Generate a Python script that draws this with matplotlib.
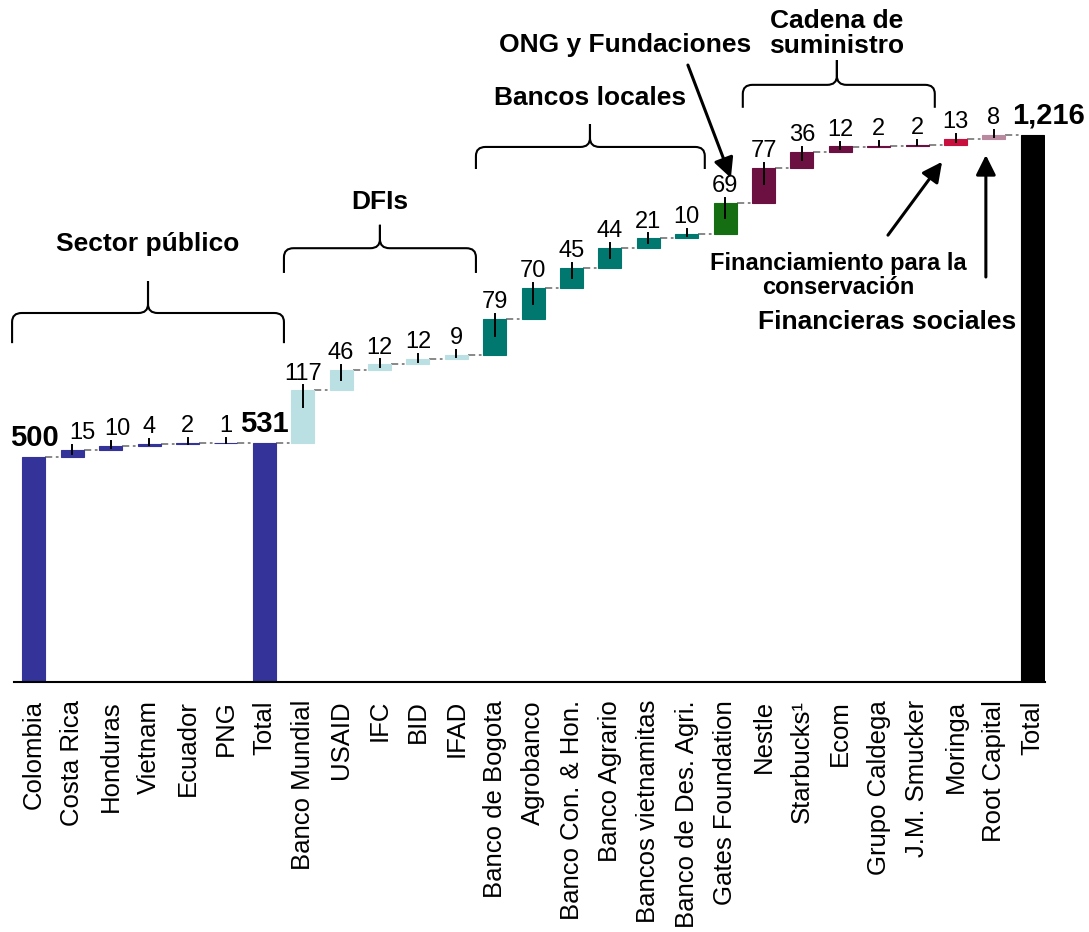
import numpy as np
import matplotlib
matplotlib.use('Agg')
import matplotlib.pyplot as plt
from matplotlib.path import Path
from matplotlib.patches import PathPatch

plt.rcParams['font.family'] = ['Liberation Sans', 'DejaVu Sans']

# data
categories = ['Colombia', 'Costa Rica', 'Honduras', 'Vietnam', 'Ecuador', 'PNG', 'Total',
              'Banco Mundial', 'USAID', 'IFC', 'BID', 'IFAD',
              'Banco de Bogota', 'Agrobanco', 'Banco Con. & Hon.', 'Banco Agrario',
              'Bancos vietnamitas', 'Banco de Des. Agri.', 'Gates Foundation',
              'Nestle', 'Starbucks\u00b9', 'Ecom', 'Grupo Caldega', 'J.M. Smucker',
              'Moringa', 'Root Capital', 'Total']
values = [500, 15, 10, 4, 2, 1, 531,
          117, 46, 12, 12, 9,
          79, 70, 45, 44, 21, 10, 69,
          77, 36, 12, 2, 2,
          13, 8, 1216]
is_total = [True, False, False, False, False, False, True,
            False, False, False, False, False,
            False, False, False, False, False, False, False,
            False, False, False, False, False,
            False, False, True]
total_labels = {0: '500', 6: '531', 26: '1,216'}
colors = ['#333399'] * 7 + ['#BBE0E3'] * 5 + ['#00786F'] * 6 + ['#166E13'] + \
         ['#6B1040'] * 5 + ['#C8103E', '#B8899F', '#000000']

groups = [
    ('Sector p\u00fablico', -0.57, 6.51, 820, 753, 891, 2.97, 973),
    ('DFIs', 6.51, 11.51, 964, 909, 1016, 9.01, 1067),
    ('Bancos locales', 11.51, 17.47, 1189, 1140, 1240, 14.48, 1298),
    ('Cadena de\nsuministro', 18.46, 23.46, 1327, 1276, 1382, 20.91, 1442),
]

# small horizontal nudges for crowded labels
label_shift = {1: 0.25, 2: 0.18, 26: 0.42}

fig = plt.figure(figsize=(10.89, 9.32), dpi=100)
ax = fig.add_axes([14 / 1089, 250 / 932, 1031 / 1089, 675 / 932])

x = np.arange(len(categories))
width = 0.6

# compute bar bottoms
bottoms = []
tops = []
running = 0
for i, v in enumerate(values):
    if is_total[i]:
        bottoms.append(0)
        tops.append(v)
        running = v
    else:
        bottoms.append(running)
        running += v
        tops.append(running)

ax.bar(x, np.array(tops) - np.array(bottoms), bottom=bottoms, width=width,
       color=colors, edgecolor=colors, lw=0.8, zorder=2)

# connectors
for i in range(len(values) - 1):
    level = tops[i]
    ax.plot([x[i] + width / 2, x[i + 1] - width / 2], [level, level],
            color='#7f7f7f', lw=1.3, ls=(0, (4, 2, 1.5, 2)), zorder=1)

# value labels and marker lines
for i, v in enumerate(values):
    xt = x[i] + label_shift.get(i, 0)
    if is_total[i]:
        ax.text(xt, tops[i] + 24, total_labels[i], ha='center', va='baseline',
                fontsize=21, fontweight='bold')
    else:
        ax.plot([x[i], x[i]], [tops[i] + 11, tops[i] - min(36, 0.5 * v)],
                color='black', lw=1.4, zorder=3)
        ax.text(xt, tops[i] + 24, str(v), ha='center', va='baseline', fontsize=17)


def brace(x0, x1, yb, ye, yp, xc):
    r = 0.25
    dy = 20
    verts = [(x0, ye), (x0, yb - dy), (x0, yb), (x0 + r, yb), (xc - r, yb),
             (xc, yb), (xc, yb + dy), (xc, yp),
             (xc, yb + dy), (xc, yb), (xc + r, yb), (x1 - r, yb),
             (x1, yb), (x1, yb - dy), (x1, ye)]
    codes = [Path.MOVETO, Path.LINETO, Path.CURVE3, Path.CURVE3, Path.LINETO,
             Path.CURVE3, Path.CURVE3, Path.LINETO,
             Path.LINETO, Path.CURVE3, Path.CURVE3, Path.LINETO,
             Path.CURVE3, Path.CURVE3, Path.LINETO]
    ax.add_patch(PathPatch(Path(verts, codes), fill=False, lw=1.5,
                           edgecolor='black', clip_on=False))


for name, x0, x1, yb, ye, yp, xc, yt in groups:
    brace(x0, x1, yb, ye, yp, xc)
    ax.text(xc, yt, name, ha='center', va='center', fontsize=19,
            fontweight='bold', linespacing=1.05)

# annotations
arrow = dict(arrowstyle='-|>', mutation_scale=30, lw=2.2, color='black',
             shrinkA=0, shrinkB=0)
ax.text(15.39, 1416, 'ONG y Fundaciones', ha='center', va='center',
        fontsize=19, fontweight='bold')
ax.annotate('', xy=(18.15, 1120), xytext=(17.03, 1371), arrowprops=arrow,
            annotation_clip=False)
ax.text(20.94, 904, 'Financiamiento para la\nconservaci\u00f3n', ha='center',
        va='center', fontsize=17, fontweight='bold', linespacing=1.05)
ax.annotate('', xy=(23.65, 1156), xytext=(22.24, 993), arrowprops=arrow,
            annotation_clip=False)
ax.text(22.21, 800, 'Financieras sociales', ha='center', va='center',
        fontsize=19, fontweight='bold')
ax.annotate('', xy=(24.79, 1171), xytext=(24.79, 900), arrowprops=arrow,
            annotation_clip=False)

ax.set_xlim(-0.52, 26.33)
ax.set_ylim(0, 1500)
ax.set_xticks(x)
ax.set_xticklabels(categories, rotation=90, fontsize=18.5, va='top', ha='center')
ax.tick_params(axis='x', length=0, pad=13)
ax.set_yticks([])
for s in ['top', 'right', 'left']:
    ax.spines[s].set_visible(False)
ax.spines['bottom'].set_linewidth(1.5)

plt.savefig('out.png', dpi=100)
